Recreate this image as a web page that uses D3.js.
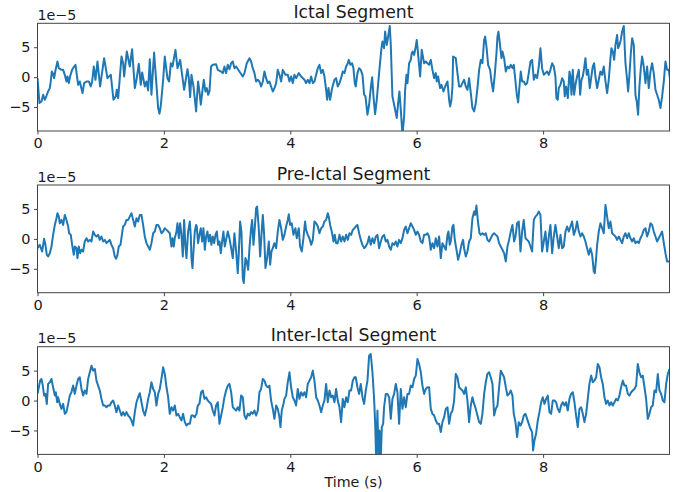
<!DOCTYPE html>
<html>
<head>
<meta charset="utf-8">
<script src="https://cdn.jsdelivr.net/npm/d3@7"></script>
<style>
  body { margin: 0; background: #fff; }
  text { font-family: "DejaVu Sans", sans-serif; fill: #1a1a1a; }
</style>
</head>
<body>
<div id="chart"></div>
<script>
// Data (values in units of 1e-5, time in seconds)
const ictalTime = [
  0.0,0.031,0.063,0.089,0.116,0.142,0.168,0.195,0.21,0.226,0.247,0.263,0.284,0.316,0.337,0.379,0.406,0.432,0.458,0.474,0.495,0.522,0.548,0.58,0.601,0.643,0.669,0.712,0.738,0.775,0.812,0.843,0.865,0.891,0.917,0.949,0.991,1.054,1.107,1.16,1.202,1.239,1.255,1.276,1.329,1.355,1.371,1.413,1.46,1.497,1.54,1.566,1.603,1.634,1.656,1.698,1.724,1.75,1.777,1.803,1.845,1.909,1.93,1.951,1.988,2.014,2.056,2.083,2.109,2.136,2.183,2.215,2.257,2.32,2.373,2.394,2.415,2.436,2.468,2.51,
  2.52,2.541,2.562,2.584,2.605,2.631,2.657,2.679,2.7,2.721,2.747,2.773,2.826,2.853,2.905,2.932,2.958,2.984,3.011,3.037,3.064,3.09,3.116,3.143,3.195,3.248,3.275,3.311,3.354,3.38,3.406,3.433,3.459,3.486,3.512,3.538,3.565,3.591,3.617,3.644,3.67,3.723,3.749,3.776,3.802,3.828,3.855,3.881,3.923,3.96,3.987,4.013,4.039,4.066,4.092,4.134,4.171,4.224,4.25,4.277,4.303,4.33,4.356,4.382,4.409,4.435,4.461,4.488,4.514,4.54,4.567,4.583,4.604,4.63,4.662,4.699,4.725,4.751,4.778,4.804,4.83,4.857,4.883,4.91,4.925,4.952,4.978,4.999,5.02,
  5.036,5.062,5.089,5.115,5.142,5.168,5.189,5.221,5.247,5.273,5.295,5.316,5.342,5.368,5.405,5.442,5.458,5.484,5.5,5.527,5.548,5.574,5.59,5.616,5.643,5.669,5.685,5.706,5.727,5.748,5.775,5.801,5.817,5.838,5.854,5.88,5.906,5.922,5.938,5.959,5.985,6.001,6.028,6.054,6.08,6.117,6.144,6.17,6.196,6.223,6.249,6.276,6.302,6.318,6.339,6.37,6.392,6.423,6.45,6.487,6.513,6.529,6.55,6.566,6.576,6.618,6.645,6.671,6.698,6.724,6.75,6.777,6.803,6.829,6.856,6.882,6.909,6.935,6.961,6.988,7.014,7.04,7.067,7.083,7.104,7.13,7.162,7.183,7.209,7.235,7.262,7.278,7.293,7.315,7.341,7.357,7.383,7.41,7.436,7.462,7.489,7.515,
  7.536,7.563,7.584,7.605,7.626,7.647,7.668,7.694,7.721,7.747,7.773,7.8,7.826,7.853,7.879,7.905,7.932,7.958,7.984,8.011,8.037,8.064,8.09,8.116,8.143,8.169,8.195,8.211,8.232,8.248,8.275,8.301,8.327,8.343,8.364,8.391,8.417,8.433,8.449,8.47,8.491,8.512,8.538,8.565,8.586,8.607,8.628,8.649,8.67,8.691,8.712,8.739,8.76,8.786,8.807,8.828,8.855,8.881,8.907,8.934,8.96,8.987,9.013,9.039,9.066,9.081,9.103,9.124,9.145,9.171,9.187,9.208,9.229,9.25,9.277,9.303,9.33,9.345,9.366,9.388,9.409,9.435,9.461,9.482,9.503,9.524,9.546,9.567,9.593,9.62,9.646,9.672,9.699,9.725,9.751,9.778,9.804,9.83,9.857,9.883,9.91,9.936,9.962,9.989,10.01
]
const ictalValues = [
  -0.17,-4.33,-4.06,-2.94,-3.78,-3.11,-2.39,-1.83,-0.72,0.94,0.56,-0.17,1.11,2.61,1.5,1.22,1.22,0.39,-0.72,0.11,-1.0,0.39,1.22,1.78,2.06,-1.28,-0.72,-2.67,-1.0,-0.72,-0.72,-1.56,-0.72,1.78,-0.44,2.61,-1.56,3.17,-0.17,0.39,-3.78,-3.22,-2.11,-3.5,3.44,2.33,0.11,4.28,1.78,4.67,-1.83,-0.44,2.22,-1.28,0.78,-1.56,-0.72,-2.22,3.0,-2.94,4.11,-5.17,-6.11,-4.78,-0.44,3.44,-0.17,-0.72,2.33,1.78,4.56,1.5,2.89,-2.11,1.33,-0.17,-3.33,0.39,-1.56,-5.72,
  -3.78,-0.72,-2.39,-4.61,-2.67,-0.44,-2.39,-1.83,-2.94,-2.39,1.78,2.06,2.17,1.22,0.94,0.67,1.78,0.67,2.06,1.33,2.33,2.61,1.5,1.78,0.94,0.11,0.67,2.33,3.17,2.61,1.5,0.67,-0.72,-0.44,-0.72,-1.56,-0.72,0.94,-0.17,-1.0,-0.72,-2.39,-1.83,-1.0,1.22,0.39,-0.72,1.22,0.39,0.39,-0.72,0.11,-1.0,0.39,-0.17,0.67,0.11,-0.44,-1.0,-0.44,-1.0,0.11,-1.0,-0.72,0.39,1.5,2.06,0.67,1.22,0.11,-2.11,-3.78,-1.83,-3.78,-1.83,-0.44,-0.17,-1.56,-1.0,-0.17,0.94,0.67,1.78,2.33,2.89,2.06,2.33,1.5,-1.0,
  -1.56,0.67,1.5,1.22,0.39,-2.94,-3.22,-6.28,-4.61,-1.83,0.0,-3.22,-6.17,-3.78,0.67,4.83,5.94,4.83,7.61,5.39,6.78,8.56,5.39,-3.22,-4.61,-6.0,-6.83,-4.33,-2.39,-5.44,-9.6,-6.56,-2.11,0.39,-1.0,2.33,2.89,4.0,4.28,3.72,5.11,6.22,3.17,0.11,4.56,2.33,2.61,2.33,2.06,2.89,1.22,-0.17,0.67,-0.72,0.11,-1.83,-1.28,-2.39,-1.56,-0.72,-3.78,-4.89,-3.78,-1.56,3.44,3.17,0.67,-1.56,-1.56,-1.0,-0.44,-1.56,-2.11,-0.17,-2.67,-5.17,-5.72,-4.33,-1.83,1.22,2.89,2.33,6.22,6.78,5.11,2.06,1.22,-0.72,-2.39,0.39,4.0,6.78,7.61,5.67,3.17,4.28,3.17,0.94,1.78,1.5,2.06,1.5,
  2.06,-0.72,-2.94,-4.22,-1.56,0.94,-0.72,-0.72,-1.28,-1.0,0.67,2.61,2.89,-0.44,0.39,-0.17,1.78,4.83,1.5,0.39,0.67,0.94,0.39,1.22,2.33,1.78,0.11,-3.5,-3.78,-1.83,-1.28,-0.17,-0.72,-3.22,-1.56,-3.5,0.94,0.11,-2.94,1.22,-2.94,-1.28,0.11,1.22,-2.94,-0.44,0.11,1.5,3.17,0.39,1.22,-1.83,-0.17,1.78,2.33,0.11,-1.83,-0.44,0.94,0.39,1.78,-0.72,-2.67,-0.44,3.17,4.83,4.28,2.89,5.39,7.06,4.83,5.39,6.22,7.61,8.56,2.33,-0.44,-2.39,0.39,4.0,6.5,5.39,-2.94,-4.06,-6.28,-1.56,1.5,3.44,1.78,-1.0,1.78,-1.83,0.94,2.33,0.67,-2.11,-2.94,-3.78,-5.17,-3.22,-0.72,2.61,1.22,1.22,-0.44
]

const preIctalTime = [
  0.0,0.036,0.073,0.105,0.126,0.147,0.168,0.195,0.221,0.247,0.274,0.3,0.316,0.337,0.353,0.379,0.406,0.432,0.458,0.485,0.501,0.527,0.548,0.574,0.59,0.617,0.632,0.653,0.675,0.696,0.722,0.748,0.775,0.801,0.828,0.854,0.88,0.907,0.933,0.959,0.986,1.012,1.039,1.065,1.091,1.118,1.144,1.17,1.197,1.223,1.244,1.265,1.286,1.313,1.339,1.355,1.381,1.408,1.434,1.46,1.487,1.513,1.54,1.566,1.592,1.619,1.645,1.671,1.698,1.724,1.751,1.777,1.803,1.83,1.856,1.882,1.909,1.935,1.961,1.988,2.014,2.041,2.067,2.093,2.12,2.136,2.157,2.172,2.199,2.215,2.236,2.257,2.278,2.299,2.32,2.341,2.357,2.383,2.41,2.426,2.436,2.452,2.473,2.489,2.51,
  2.52,2.541,2.562,2.584,2.605,2.626,2.647,2.668,2.689,2.71,2.731,2.752,2.773,2.795,2.816,2.837,2.858,2.879,2.9,2.921,2.942,2.963,2.984,3.011,3.037,3.064,3.09,3.116,3.143,3.169,3.185,3.206,3.227,3.248,3.264,3.29,3.311,3.333,3.354,3.38,3.396,3.417,3.438,3.459,3.475,3.501,3.523,3.544,3.565,3.586,3.607,3.633,3.66,3.681,3.702,3.723,3.749,3.776,3.802,3.828,3.855,3.881,3.907,3.934,3.96,3.976,3.997,4.023,4.05,4.081,4.102,4.134,4.155,4.182,4.208,4.234,4.25,4.277,4.303,4.33,4.356,4.382,4.409,4.435,4.461,4.488,4.514,4.54,4.567,4.593,4.609,4.63,4.662,4.683,4.704,4.725,4.751,4.778,4.804,4.83,4.857,4.883,4.91,4.936,4.962,4.989,5.015,
  5.036,5.062,5.089,5.115,5.142,5.168,5.194,5.221,5.247,5.273,5.3,5.326,5.353,5.379,5.405,5.432,5.458,5.484,5.511,5.537,5.564,5.59,5.616,5.643,5.669,5.695,5.722,5.748,5.775,5.801,5.827,5.854,5.88,5.906,5.933,5.959,5.986,6.012,6.038,6.065,6.091,6.117,6.144,6.17,6.196,6.223,6.249,6.276,6.302,6.328,6.355,6.381,6.407,6.434,6.46,6.487,6.502,6.523,6.539,6.566,6.581,6.603,6.634,6.655,6.682,6.708,6.734,6.75,6.777,6.803,6.829,6.856,6.882,6.909,6.924,6.945,6.972,6.993,7.014,7.04,7.067,7.093,7.119,7.146,7.172,7.199,7.225,7.251,7.278,7.304,7.33,7.357,7.383,7.41,7.436,7.462,7.489,7.515,
  7.541,7.563,7.589,7.615,7.642,7.668,7.694,7.721,7.747,7.773,7.8,7.826,7.853,7.879,7.905,7.932,7.958,7.984,8.011,8.037,8.064,8.09,8.116,8.143,8.169,8.195,8.222,8.248,8.275,8.301,8.327,8.354,8.38,8.406,8.433,8.459,8.486,8.512,8.538,8.565,8.591,8.617,8.644,8.67,8.696,8.723,8.749,8.776,8.802,8.818,8.839,8.855,8.881,8.907,8.934,8.96,8.987,9.013,9.039,9.066,9.092,9.118,9.145,9.171,9.198,9.224,9.25,9.277,9.303,9.33,9.356,9.382,9.409,9.435,9.461,9.488,9.514,9.54,9.567,9.593,9.62,9.646,9.672,9.699,9.725,9.751,9.778,9.804,9.83,9.857,9.883,9.91,9.936,9.962,9.999
]
const preIctalValues = [
  -1.56,-1.0,-2.11,0.0,-1.0,-2.67,-2.94,-2.39,-1.28,0.67,2.33,3.44,4.28,3.72,2.61,3.17,2.33,4.0,3.17,2.06,0.94,0.67,-1.0,-2.67,-1.28,-1.56,-3.22,-1.28,-2.39,-1.83,-2.11,-0.44,0.11,-0.44,-0.17,-0.44,1.22,0.67,0.39,0.67,-0.17,0.39,-0.44,-0.17,-0.72,-0.44,-0.17,-1.0,-1.56,-2.94,-3.33,-2.67,-1.28,-1.0,0.94,2.06,2.33,3.17,3.17,3.72,4.28,3.17,2.06,3.44,2.89,4.0,4.0,2.33,0.39,-0.72,-1.28,-1.83,-0.72,0.94,1.22,2.33,2.33,1.78,0.94,1.22,1.78,1.5,1.22,0.94,-1.28,0.11,-1.28,0.11,1.22,2.61,0.11,2.61,0.67,-2.94,3.17,-1.28,-3.22,1.22,2.89,0.39,-3.22,-4.89,-1.28,1.22,2.33,
  2.06,-0.72,0.67,1.78,-0.44,1.78,-1.83,0.39,1.22,-0.44,0.67,-1.0,0.39,-0.72,0.67,1.22,-1.0,-0.44,-2.39,-0.44,1.22,-1.28,-0.17,1.22,0.11,-1.56,-3.22,0.94,-2.11,-5.72,-2.39,2.89,1.22,-6.56,-7.39,-3.22,-3.78,-5.17,-1.56,1.78,3.17,-1.0,1.78,5.11,5.39,1.78,-2.94,0.67,4.0,0.67,-4.89,-3.22,-0.44,-4.33,-2.11,-1.56,-0.72,-1.56,1.22,3.17,1.78,-0.17,0.67,2.06,3.17,4.11,2.33,2.61,0.67,1.78,0.11,1.78,-1.28,-2.11,0.11,2.89,1.5,0.67,0.11,-1.0,-0.17,2.89,2.61,2.06,0.94,1.78,2.06,2.89,3.17,4.28,3.72,2.33,0.94,-0.44,0.67,-0.72,-0.72,0.67,-0.44,0.39,-0.44,0.67,-0.17,0.94,0.67,1.5,1.78,
  2.06,2.33,0.94,-0.17,-1.0,-1.56,-1.28,-0.72,0.39,-1.0,0.11,-0.72,0.39,0.67,-1.56,-0.44,0.39,0.67,-0.44,-0.17,-1.28,-1.83,-0.72,-1.0,-0.44,-1.28,-0.17,-0.72,0.11,1.5,2.06,0.94,1.78,2.61,2.06,1.5,0.67,1.22,0.67,-0.44,-0.72,0.67,0.67,0.94,0.39,-1.83,-0.72,-1.56,0.11,-1.28,0.39,-3.22,-0.72,-1.28,-1.83,0.67,1.22,-1.0,-0.44,2.06,2.33,-0.17,-2.11,-3.5,-2.39,-1.0,-0.17,-1.56,-2.94,-2.11,-0.44,0.11,3.44,4.56,4.0,5.56,2.61,0.94,0.67,0.94,0.67,0.94,-0.17,-0.44,0.11,0.67,0.94,0.67,0.39,-0.72,-1.28,-1.83,-2.39,-3.78,-1.28,-0.17,1.22,2.33,
  -0.44,0.39,2.61,2.89,-2.11,1.22,3.17,0.11,-0.17,-0.44,-1.28,-2.11,3.17,3.72,4.0,4.56,4.0,-2.11,-0.44,1.22,-2.11,0.39,2.33,-2.39,0.39,2.33,0.39,-1.56,0.67,-1.56,-1.28,1.22,2.06,1.22,2.06,2.89,0.67,1.5,2.89,1.22,0.39,0.94,0.39,-0.44,-1.56,-2.67,-1.56,-2.67,-5.44,-5.72,-3.22,-1.0,1.22,2.61,1.78,0.94,5.67,3.72,1.78,2.89,0.94,0.67,0.39,-0.17,0.39,-0.17,-0.72,0.39,0.94,0.11,0.94,0.11,-0.44,0.11,-0.72,-0.44,-0.72,0.11,0.67,1.5,1.78,0.39,1.22,2.61,2.33,1.22,0.39,-0.44,0.11,0.67,1.22,-0.72,-2.39,-3.78,-3.78
]

const interIctalTime = [
  0.0,0.021,0.042,0.063,0.084,0.105,0.126,0.147,0.168,0.195,0.221,0.247,0.274,0.29,0.311,0.326,0.353,0.379,0.406,0.432,0.458,0.485,0.511,0.537,0.564,0.59,0.617,0.643,0.669,0.696,0.722,0.748,0.775,0.801,0.828,0.854,0.88,0.907,0.933,0.959,0.986,1.012,1.039,1.065,1.091,1.118,1.144,1.17,1.197,1.223,1.249,1.276,1.302,1.329,1.355,1.381,1.408,1.434,1.46,1.487,1.513,1.54,1.566,1.592,1.619,1.645,1.671,1.698,1.724,1.751,1.777,1.803,1.83,1.856,1.882,1.909,1.935,1.961,1.988,2.014,2.041,2.067,2.093,2.12,2.146,2.172,2.199,2.225,2.251,2.278,2.304,2.331,2.357,2.383,2.41,2.436,2.462,2.489,2.515,
  2.536,2.562,2.589,2.615,2.642,2.668,2.694,2.721,2.747,2.773,2.8,2.826,2.853,2.879,2.905,2.932,2.958,2.984,3.011,3.037,3.064,3.09,3.116,3.143,3.169,3.195,3.222,3.248,3.275,3.301,3.327,3.354,3.38,3.406,3.433,3.459,3.486,3.512,3.538,3.565,3.591,3.617,3.644,3.67,3.696,3.723,3.749,3.776,3.802,3.828,3.844,3.865,3.892,3.907,3.934,3.96,3.987,4.013,4.039,4.066,4.092,4.118,4.145,4.171,4.198,4.224,4.25,4.277,4.303,4.33,4.356,4.382,4.409,4.435,4.461,4.488,4.514,4.54,4.567,4.593,4.62,4.646,4.672,4.699,4.725,4.751,4.778,4.804,4.83,4.857,4.883,4.91,4.936,4.962,4.989,5.015,
  5.036,5.062,5.089,5.115,5.142,5.168,5.194,5.221,5.247,5.273,5.3,5.326,5.342,5.358,5.379,5.395,5.411,5.432,5.448,5.469,5.484,5.511,5.537,5.564,5.59,5.616,5.643,5.669,5.695,5.722,5.748,5.775,5.801,5.827,5.854,5.88,5.906,5.933,5.959,5.986,6.012,6.038,6.065,6.091,6.117,6.144,6.17,6.196,6.223,6.249,6.276,6.302,6.328,6.355,6.381,6.407,6.434,6.46,6.487,6.513,6.539,6.566,6.592,6.618,6.645,6.671,6.698,6.724,6.75,6.777,6.803,6.829,6.856,6.882,6.909,6.935,6.961,6.988,7.014,7.04,7.067,7.093,7.119,7.146,7.172,7.199,7.225,7.251,7.278,7.304,7.33,7.357,7.383,7.41,7.436,7.462,7.489,7.515,
  7.536,7.563,7.589,7.615,7.642,7.668,7.694,7.721,7.747,7.773,7.8,7.826,7.842,7.863,7.889,7.916,7.942,7.969,7.995,8.021,8.048,8.074,8.1,8.127,8.153,8.18,8.206,8.232,8.259,8.285,8.311,8.338,8.364,8.39,8.417,8.443,8.47,8.496,8.522,8.549,8.575,8.602,8.628,8.654,8.681,8.707,8.733,8.76,8.786,8.813,8.839,8.865,8.892,8.918,8.944,8.971,8.997,9.023,9.05,9.076,9.103,9.129,9.155,9.182,9.208,9.234,9.261,9.287,9.313,9.34,9.366,9.393,9.419,9.445,9.472,9.498,9.524,9.551,9.577,9.604,9.63,9.656,9.683,9.709,9.735,9.762,9.788,9.815,9.841,9.868,9.894,9.92,9.947,9.973,9.999
]
const interIctalValues = [
  1.11,2.22,3.33,3.61,2.5,0.83,1.11,-0.56,2.78,3.06,3.61,2.22,0.83,1.39,-0.28,0.56,-0.56,-1.39,-0.56,-2.22,-1.94,-0.56,0.83,1.39,2.5,1.11,2.5,3.61,3.89,1.94,0.83,1.67,1.11,3.61,4.72,5.83,5.0,5.28,3.33,2.5,1.67,0.28,-0.83,-0.83,-1.11,-0.83,-0.83,-0.28,0.0,-0.83,-1.94,-0.83,-1.67,-2.5,-1.94,-2.5,-1.94,-2.5,-2.78,-3.33,-4.17,-1.94,-0.28,0.56,1.22,-0.28,-1.67,-2.5,-1.39,0.28,1.39,3.06,1.94,1.39,-0.83,1.11,1.94,3.61,5.56,4.44,2.22,0.56,-2.22,-1.11,-1.67,-0.83,-2.5,-2.22,-2.78,-3.33,-2.22,-3.61,-4.17,-3.89,-3.89,-2.5,-2.5,-2.78,-2.22,
  -0.83,-0.56,1.39,1.67,0.28,0.56,0.0,-0.28,-0.56,-1.67,-2.5,-0.83,-0.28,-3.89,-2.5,-1.11,0.56,1.67,2.5,2.78,1.39,-1.11,-1.39,-1.67,-1.11,-1.67,0.83,0.56,-2.5,-3.06,-2.22,-2.5,-1.94,-2.22,-1.67,-2.5,-1.67,1.39,1.94,3.61,3.33,2.5,2.22,2.5,0.0,-1.39,-3.06,-0.83,-1.39,-2.78,-4.44,-1.67,-0.56,0.28,0.83,3.06,4.72,2.22,0.56,0.0,-0.83,1.94,0.28,1.39,0.83,1.39,0.56,2.78,3.33,3.89,5.0,3.33,0.56,0.0,-0.83,-1.94,-0.83,0.0,2.78,-0.28,1.67,0.56,0.83,-0.28,1.94,0.0,-1.11,-3.61,0.28,-1.11,0.56,-0.28,1.67,1.67,3.33,3.89,
  3.89,2.22,1.11,2.78,0.56,-0.56,1.67,3.33,7.5,7.78,4.72,0.28,-3.61,-9.5,-1.67,-9.5,-5.0,-9.5,-4.44,-3.89,-1.11,1.11,1.11,0.56,-3.06,0.28,1.11,2.78,1.39,-3.89,1.94,-1.39,0.56,-1.11,1.11,1.11,2.5,2.22,3.61,4.17,6.94,6.11,4.72,2.5,1.11,1.94,2.22,2.22,-1.39,-2.22,-2.5,-3.33,-3.89,-3.89,-5.28,-3.61,-2.78,-1.39,-1.11,-3.89,-2.22,-1.67,0.0,4.44,3.89,2.22,1.94,1.67,1.11,2.22,0.0,-3.61,-0.83,0.56,-0.56,-1.39,-2.5,-3.61,-3.89,-2.22,1.11,3.06,4.44,4.72,3.89,2.78,-2.5,-1.39,-0.83,2.22,5.0,4.44,3.89,2.22,0.83,1.11,1.67,0.83,
  -2.22,-3.61,-6.11,-3.61,-4.17,-3.61,-2.5,-2.22,-3.06,-3.89,-4.72,-5.28,-8.33,-6.67,-5.56,-3.33,-1.94,-0.28,0.56,-0.56,0.28,0.83,-1.94,-2.22,0.0,0.0,-0.28,-1.39,-1.94,-0.83,-0.28,-0.83,-0.28,-1.67,0.28,1.11,1.39,-0.28,-2.5,-4.44,-1.39,-1.11,-2.22,-3.61,-2.22,0.28,2.78,4.17,3.06,3.33,3.89,6.11,5.56,3.89,2.78,0.56,-0.56,0.0,-0.83,-0.28,-0.83,-0.28,0.28,0.0,0.83,2.22,3.33,2.5,2.5,1.11,0.83,1.39,1.67,1.94,2.5,6.11,4.72,3.89,4.17,2.22,0.28,-3.06,-2.22,-1.11,-0.83,1.67,1.39,4.44,1.67,1.11,0.0,-0.28,2.78,4.44,5.28
]

const segmentTitles = ['Ictal Segment', 'Pre-Ictal Segment', 'Inter-Ictal Segment']
const xTicks = [0, 2, 4, 6, 8]
const yTicks = [-5, 0, 5]
const offsetLabel = '1e\u22125'
const xLabel = 'Time (s)'

// Dimensions
const dimensions = {
  width: 678,
  height: 492,
  left: 37.5,
  right: 669.5,
  top: 23.3,
  panelHeight: 107.7,
  panelStep: 161.7
}

const svg = d3.select('#chart')
  .append('svg')
  .attr('width', dimensions.width)
  .attr('height', dimensions.height)

const x = d3.scaleLinear()
  .domain([0, 10])
  .range([dimensions.left, dimensions.right])

const series = [
  { time: ictalTime, values: ictalValues },
  { time: preIctalTime, values: preIctalValues },
  { time: interIctalTime, values: interIctalValues }
]

series.forEach((s, i) => {
  const top = dimensions.top + i * dimensions.panelStep
  const bottom = top + dimensions.panelHeight

  const y = d3.scaleLinear()
    .domain([-9, 9])
    .range([bottom, top])

  const n = Math.min(s.time.length, s.values.length)
  const points = d3.range(n).map(k => [s.time[k], s.values[k]])

  svg.append('clipPath')
    .attr('id', `clip${i}`)
    .append('rect')
    .attr('x', dimensions.left)
    .attr('y', top)
    .attr('width', dimensions.right - dimensions.left)
    .attr('height', dimensions.panelHeight)

  const line = d3.line()
    .x(d => x(d[0]))
    .y(d => y(d[1]))

  svg.append('path')
    .datum(points)
    .attr('clip-path', `url(#clip${i})`)
    .attr('d', line)
    .attr('fill', 'none')
    .attr('stroke', '#1f77b4')
    .attr('stroke-width', 2)
    .attr('stroke-linejoin', 'round')

  // Axes
  const xAxis = svg.append('g')
    .attr('transform', `translate(0, ${bottom})`)
    .call(d3.axisBottom(x).tickValues(xTicks).tickSize(3.5).tickPadding(3.5).tickFormat(d3.format('d')))
  const yAxis = svg.append('g')
    .attr('transform', `translate(${dimensions.left}, 0)`)
    .call(d3.axisLeft(y).tickValues(yTicks).tickSize(3.5).tickPadding(3.5).tickFormat(d3.format('d')))

  ;[xAxis, yAxis].forEach(a => {
    a.select('.domain').remove()
    a.selectAll('line').attr('stroke', '#444')
    a.selectAll('text')
      .style('font-family', '"DejaVu Sans", sans-serif')
      .style('font-size', '14.5px')
      .attr('fill', '#1a1a1a')
  })

  // frame
  svg.append('rect')
    .attr('x', dimensions.left)
    .attr('y', top)
    .attr('width', dimensions.right - dimensions.left)
    .attr('height', dimensions.panelHeight)
    .attr('fill', 'none')
    .attr('stroke', '#444')
    .attr('stroke-width', 1)

  // offset text
  svg.append('text')
    .attr('x', dimensions.left)
    .attr('y', top - 3.5)
    .style('font-size', '14.3px')
    .text(offsetLabel)

  // title
  svg.append('text')
    .attr('x', (dimensions.left + dimensions.right) / 2)
    .attr('y', top - 5.5)
    .attr('text-anchor', 'middle')
    .style('font-size', '17.3px')
    .text(segmentTitles[i])
})

svg.append('text')
  .attr('x', (dimensions.left + dimensions.right) / 2)
  .attr('y', 487)
  .attr('text-anchor', 'middle')
  .style('font-size', '14.3px')
  .text(xLabel)
</script>
</body>
</html>
